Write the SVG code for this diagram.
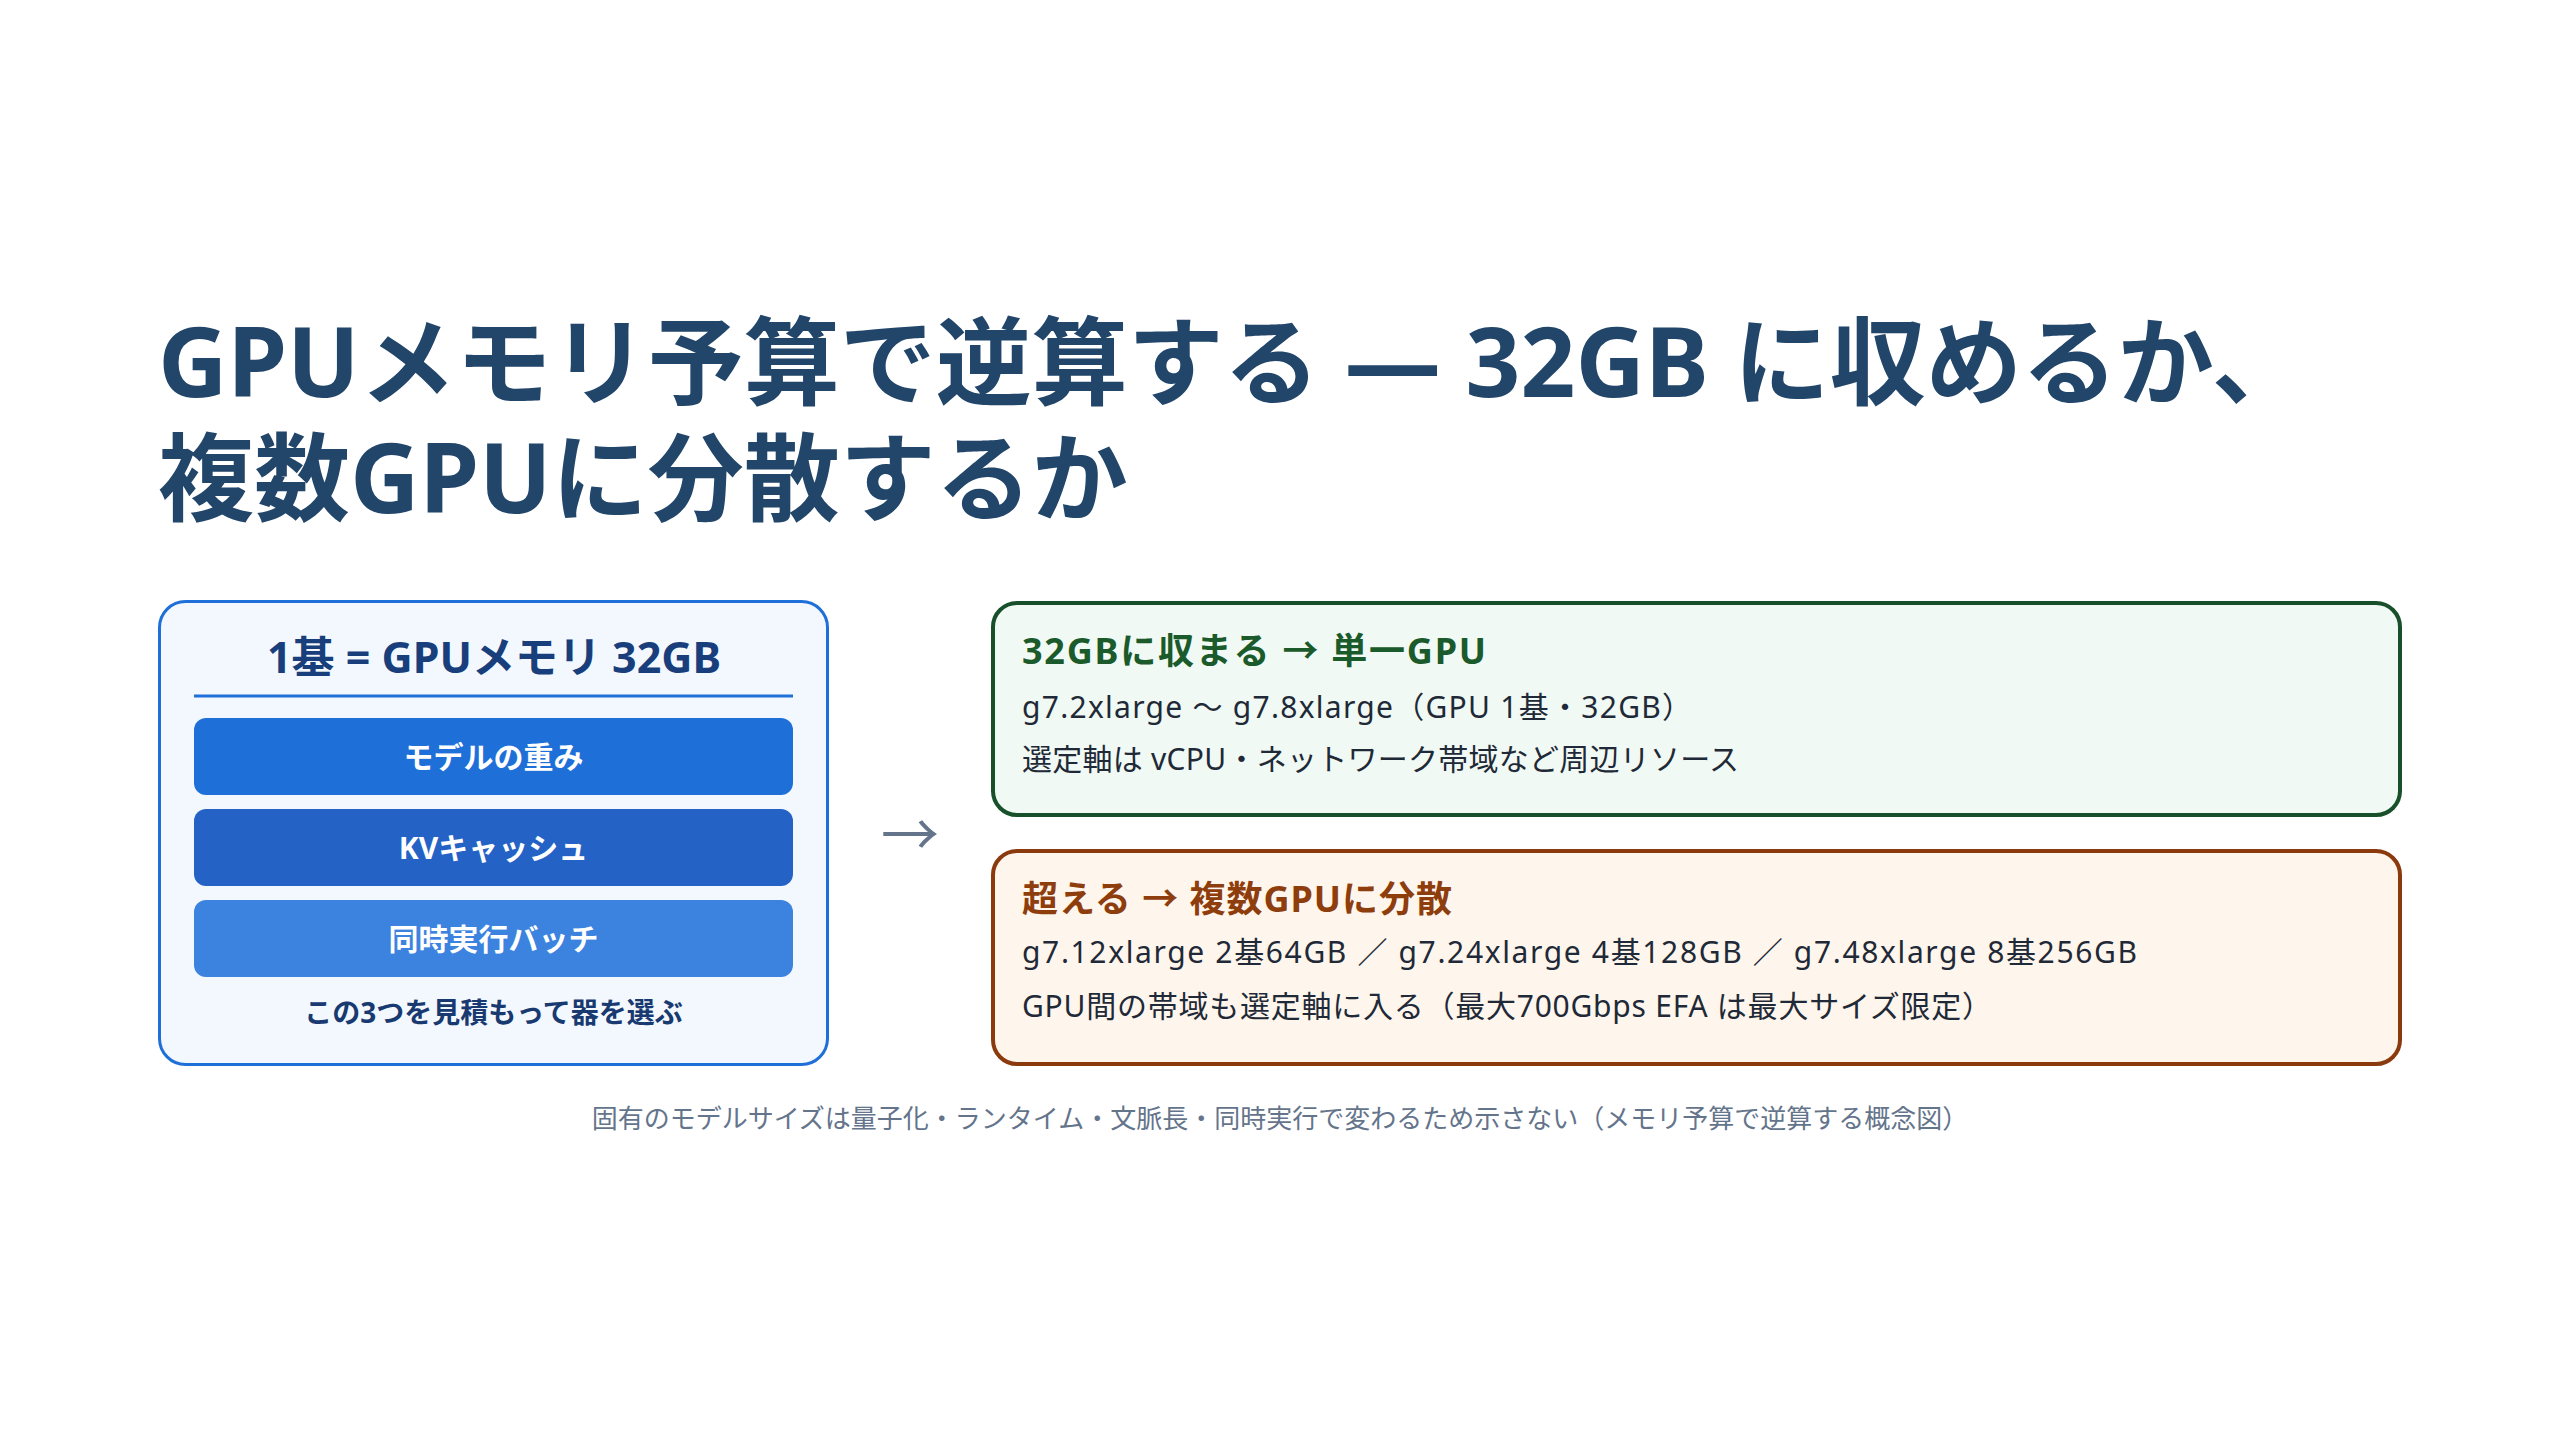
<svg xmlns="http://www.w3.org/2000/svg" width="2560" height="1440" viewBox="0 0 2560 1440">
<style>
text{font-family:"Noto Sans","Noto Sans CJK JP",sans-serif;}
.title{font-size:96px;font-weight:700;fill:#22456a;}
.hdr{font-size:43px;font-weight:700;fill:#183f7c;}
.bar{font-size:30px;font-weight:700;fill:#ffffff;}
.cap{font-size:28px;font-weight:700;fill:#183a70;}
.h2g{font-size:36px;font-weight:700;fill:#1a5a2b;}
.h2o{font-size:36px;font-weight:700;fill:#8e3d0d;}
.body{font-size:30px;font-weight:400;fill:#1f2937;}
.note{font-size:26px;font-weight:400;fill:#64748b;}
.arrow{font-size:58px;font-weight:400;fill:#64748b;font-family:"Noto Sans CJK JP",sans-serif;}
</style>
<rect width="2560" height="1440" fill="#ffffff"/>
<g id="title">
<text class="title"><tspan x="158" y="397">GPUメモリ予算で逆算する — 32GB に収めるか、</tspan><tspan x="158" y="513">複数GPUに分散するか</tspan></text>
</g>
<g id="memory-box">
<rect x="159.5" y="601.5" width="668" height="463" rx="26" fill="#f3f8fe" stroke="#1f6fd8" stroke-width="3"/>
<text class="hdr" x="494" y="673" text-anchor="middle">1基 = GPUメモリ 32GB</text>
<rect x="194" y="694.5" width="599" height="3" fill="#1f6fd8"/>
</g>
<g id="bar-weights">
<rect x="194" y="718" width="599" height="77" rx="12" fill="#1f6fd8"/>
<text class="bar" x="493.5" y="768" text-anchor="middle">モデルの重み</text>
</g>
<g id="bar-kv">
<rect x="194" y="809" width="599" height="77" rx="12" fill="#2562c6"/>
<text class="bar" x="493.5" y="859" text-anchor="middle">KVキャッシュ</text>
</g>
<g id="bar-batch">
<rect x="194" y="900" width="599" height="77" rx="12" fill="#3c82df"/>
<text class="bar" x="493.5" y="950" text-anchor="middle">同時実行バッチ</text>
</g>
<g id="memory-caption">
<text class="cap" x="493.5" y="1023" text-anchor="middle">この3つを見積もって器を選ぶ</text>
</g>
<g id="connectors">
<text class="arrow" x="910" y="856" text-anchor="middle">→</text>
</g>
<g id="single-gpu">
<rect x="993" y="603" width="1407" height="212" rx="24" fill="#f0f9f3" stroke="#17502b" stroke-width="4"/>
<text class="h2g" x="1022" y="664" textLength="464" lengthAdjust="spacing">32GBに収まる → 単一GPU</text>
<text class="body" x="1022" y="718" textLength="670" lengthAdjust="spacing">g7.2xlarge 〜 g7.8xlarge（GPU 1基・32GB）</text>
<text class="body" x="1022" y="770" textLength="717" lengthAdjust="spacing">選定軸は vCPU・ネットワーク帯域など周辺リソース</text>
</g>
<g id="multi-gpu">
<rect x="993" y="851" width="1407" height="213" rx="24" fill="#fef6ec" stroke="#8b3a0e" stroke-width="4"/>
<text class="h2o" x="1022" y="912" textLength="430" lengthAdjust="spacing">超える → 複数GPUに分散</text>
<text class="body" x="1022" y="963" textLength="1115" lengthAdjust="spacing">g7.12xlarge 2基64GB ／ g7.24xlarge 4基128GB ／ g7.48xlarge 8基256GB</text>
<text class="body" x="1022" y="1017" textLength="970" lengthAdjust="spacing">GPU間の帯域も選定軸に入る（最大700Gbps EFA は最大サイズ限定）</text>
</g>
<g id="footnote">
<text class="note" x="1280" y="1128" text-anchor="middle">固有のモデルサイズは量子化・ランタイム・文脈長・同時実行で変わるため示さない（メモリ予算で逆算する概念図）</text>
</g>
</svg>
